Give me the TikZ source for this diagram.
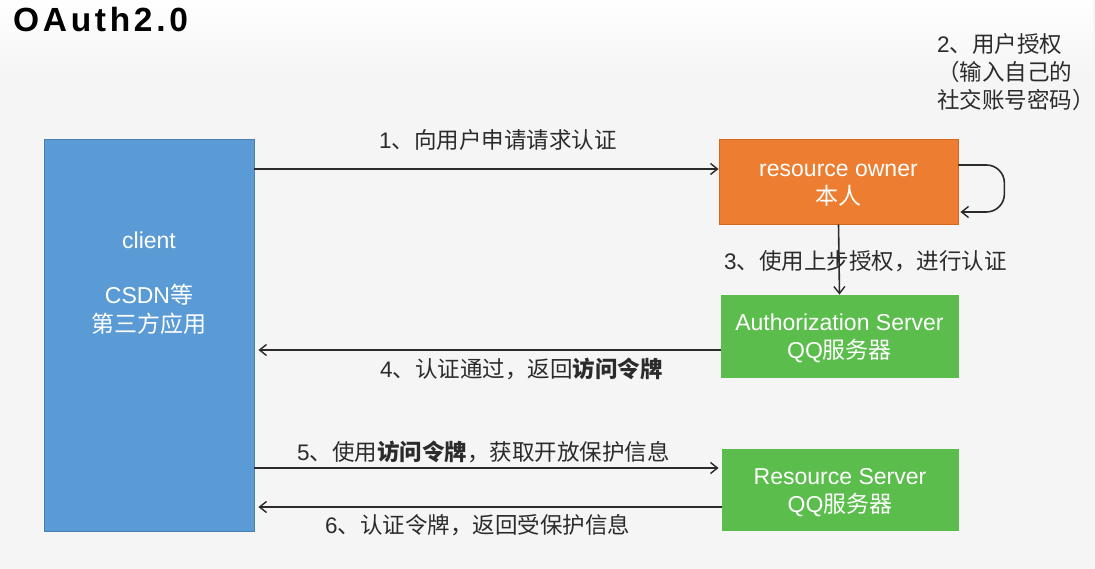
\documentclass[tikz,border=0pt]{standalone}
\usepackage{fontspec}
\setmainfont{Liberation Sans}
\newfontfamily\cjk{Noto Sans CJK SC}
\newfontfamily\titlefont[LetterSpace=11]{Liberation Sans Bold}
\usetikzlibrary{arrows.meta,fadings}
\definecolor{bg}{HTML}{F5F5F5}
\definecolor{cblue}{HTML}{5B9BD5}
\definecolor{cblueb}{HTML}{4A7FB0}
\definecolor{corange}{HTML}{ED7D31}
\definecolor{corangeb}{HTML}{D2691E}
\definecolor{cgreen}{HTML}{5BBD4C}
\definecolor{ink}{HTML}{2B2B2B}
\tikzset{
  box/.style={rectangle, draw, line width=0.8pt, minimum width=#1, inner sep=0pt},
  boxtext/.style={inner sep=0pt, text=white, align=center, font=\fontsize{23}{28}\selectfont},
  lbl/.style={text=ink, inner sep=0pt, font=\fontsize{22.5}{28}\selectfont, align=center},
  arr/.style={draw=ink, line width=1.6pt, -{Straight Barb[length=7pt,width=11pt,line width=1.4pt]}},
}
\begin{document}
\begin{tikzpicture}[x=1pt,y=-1pt]
\fill[bg] (0,0) rectangle (1095,569);
\fill[white, path fading=south] (0,0) rectangle (1095,80);
\useasboundingbox (0,0) rectangle (1095,569);

\node[anchor=base west, inner sep=0pt, text=black, font=\fontsize{33.5}{34}\titlefont] (title) at (13,32) {OAuth2.0};

% boxes
\node[box=210pt, minimum height=392pt, fill=cblue, draw=cblueb] (client) at (149,335) {};
\node[boxtext, font=\fontsize{23}{29}\selectfont] (clienttext) at (149,283)
  {client\\[26pt]CSDN{\cjk 等}\\{\cjk 第三方应用}};

\node[box=239pt, minimum height=85pt, fill=corange, draw=corangeb] (ro) at (838.5,181.5) {};
\node[boxtext] (rotext) at ([yshift=-4pt]ro.center) {resource owner\\{\cjk 本人}};
\node[box=237pt, minimum height=82pt, fill=cgreen, draw=cgreen] (as) at (839.5,336) {};
\node[boxtext] (astext) at ([yshift=-2pt]as.center) {Authorization Server\\QQ{\cjk 服务器}};
\node[box=236pt, minimum height=81pt, fill=cgreen, draw=cgreen] (rs) at (840,489.5) {};
\node[boxtext] (rstext) at ([yshift=-3.5pt]rs.center) {Resource Server\\QQ{\cjk 服务器}};

% labels
\node[lbl] (l1) at (498,140) {1{\cjk 、向用户申请请求认证}};
\node[lbl, align=left, anchor=north west] (l2) at (937,33)
  {2{\cjk 、用户授权}\\{\cjk （输入自己的}\\{\cjk 社交账号密码）}};
\node[lbl, anchor=west] (l3) at (724,261) {3{\cjk 、使用上步授权，进行认证}};
\node[lbl, anchor=west] (l4) at (380,369) {4{\cjk 、认证通过，返回\textbf{访问令牌}}};
\node[lbl, anchor=west] (l5) at (297,452) {5{\cjk 、使用\textbf{访问令牌}，获取开放保护信息}};
\node[lbl, anchor=west] (l6) at (325,525) {6{\cjk 、认证令牌，返回受保护信息}};

% connectors
\coordinate (a1) at ([yshift=12.5pt]ro.west);
\draw[arr] (client.east |- a1) -- (a1);

\draw[arr, rounded corners=18pt] ([yshift=16.5pt]ro.east) -- ++(46,0) -- ++(0,47) -- ++(-44,0);

\draw[arr] (ro.south) -- (as.north);

\coordinate (a4) at ([yshift=-14pt]as.west);
\draw[arr] (a4) -- ([xshift=4pt]client.east |- a4);

\coordinate (a5) at ([yshift=21.5pt,xshift=-3pt]rs.west);
\draw[arr] (client.east |- a5) -- (a5);

\coordinate (a6) at ([yshift=-17.5pt]rs.west);
\draw[arr] (a6) -- ([xshift=4pt]client.east |- a6);
\end{tikzpicture}
\end{document}
